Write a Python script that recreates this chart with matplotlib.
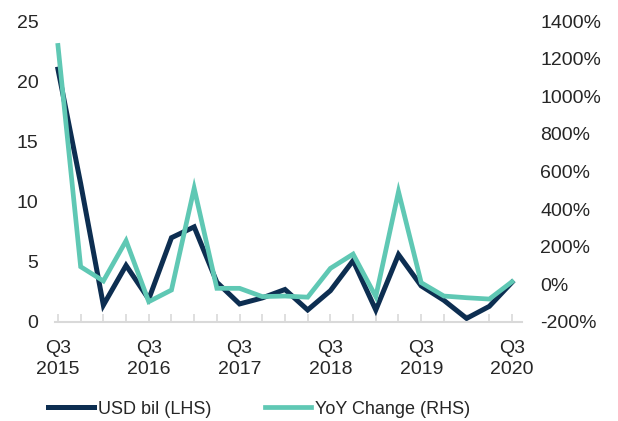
import matplotlib
matplotlib.use('Agg')
import matplotlib.pyplot as plt
from matplotlib.ticker import FixedLocator, FuncFormatter

plt.rcParams['font.family'] = ['Liberation Sans', 'DejaVu Sans']

# quarterly, Q3 2015 .. Q3 2020
quarters = list(range(21))
usd_bil = [21.0, 11.5, 1.4, 4.7, 1.9, 7.0, 7.9, 3.3, 1.5, 2.0, 2.7,
           1.0, 2.6, 5.1, 1.0, 5.6, 3.0, 1.8, 0.3, 1.3, 3.3]
yoy_pct = [1270, 94, 18, 232, -92, -30, 511, -21, -21, -65, -62,
           -68, 85, 161, -65, 493, 9, -62, -71, -78, 14]
tick_pos = [0, 4, 8, 12, 16, 20]
tick_labels = ['Q3\n2015', 'Q3\n2016', 'Q3\n2017', 'Q3\n2018', 'Q3\n2019', 'Q3\n2020']

dark = '#0d2e51'
teal = '#5fc8b4'
grey = '#d9d9d9'
txt = '#262626'
fs = 14

fig = plt.figure(figsize=(6.18, 4.21), dpi=100, facecolor='white')
ax = fig.add_axes([55 / 618, 99 / 421, 467 / 618, 301 / 421])
ax2 = ax.twinx()

l1, = ax.plot(quarters, usd_bil, color=dark, lw=3.6, solid_joinstyle='miter',
              label='USD bil (LHS)')
l2, = ax2.plot(quarters, yoy_pct, color=teal, lw=3.4, solid_joinstyle='miter',
               label='YoY Change (RHS)')

ax.set_xlim(-0.13, 20.44)
ax.set_ylim(0, 25)
ax2.set_ylim(-200, 1400)
ax.set_yticks(range(0, 26, 5))
ax2.set_yticks(range(-200, 1401, 200))
ax2.yaxis.set_major_formatter(FuncFormatter(lambda v, p: f'{v:.0f}%'))

ax.set_xticks(tick_pos)
ax.set_xticklabels(tick_labels)
ax.xaxis.set_minor_locator(FixedLocator(quarters))

for a in (ax, ax2):
    for s in a.spines.values():
        s.set_visible(False)
ax.spines['bottom'].set_visible(True)
ax.spines['bottom'].set_color(grey)
ax.spines['bottom'].set_linewidth(1.5)

ax.tick_params(axis='x', which='both', direction='in', length=6, width=1.2,
               color=grey, labelsize=fs, labelcolor=txt, pad=13)
ax.tick_params(axis='y', length=0, labelsize=fs, labelcolor=txt, pad=12)
ax2.tick_params(axis='y', length=0, labelsize=fs, labelcolor=txt, pad=13)
for lab in ax.get_xticklabels():
    lab.set_linespacing(1.3)

fig.legend(handles=[l1, l2], loc='center', bbox_to_anchor=(259 / 618, 1 - 409 / 421),
           ncol=2, frameon=False, fontsize=13, handlelength=2.55,
           handletextpad=0.2, columnspacing=3.0, labelcolor=txt)

fig.savefig('out.png', dpi=100, facecolor='white')
